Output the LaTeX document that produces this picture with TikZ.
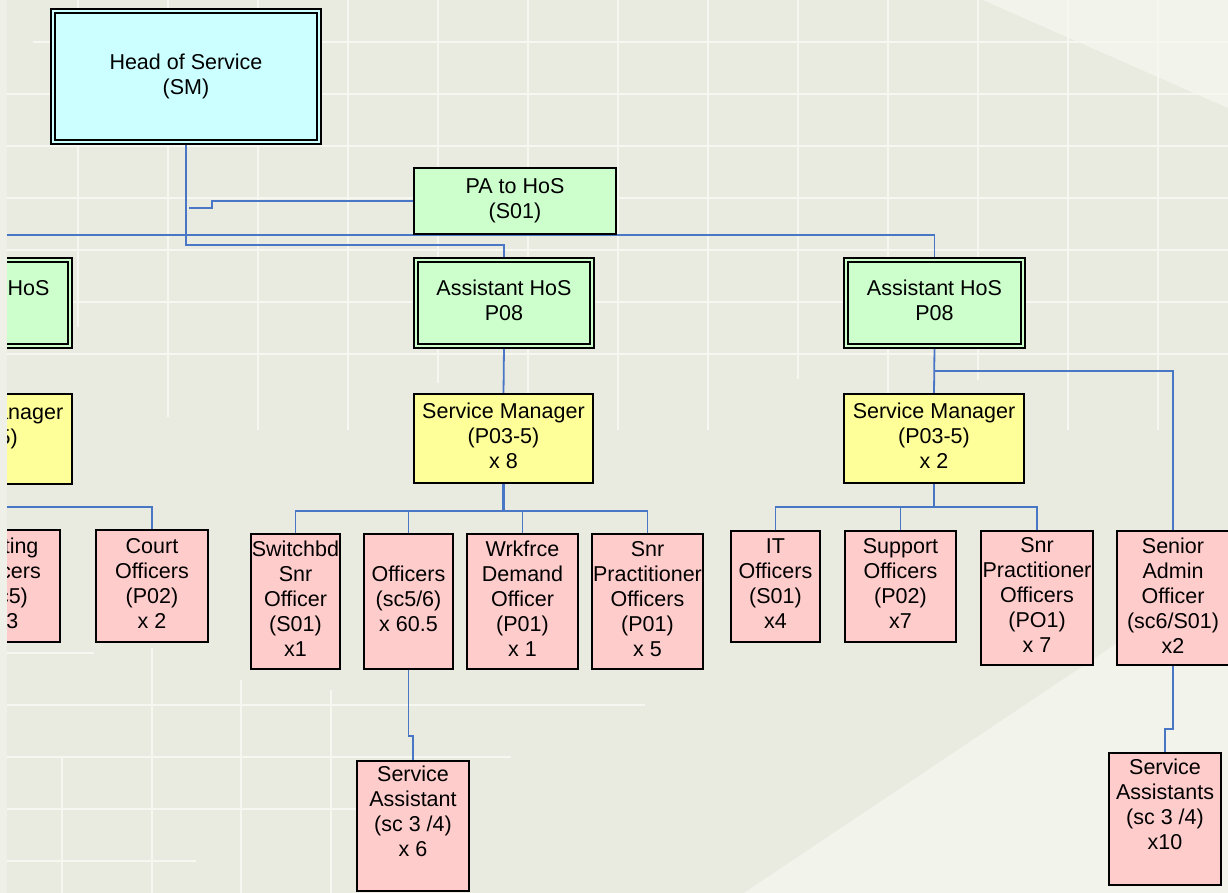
\documentclass[tikz,border=0pt]{standalone}
\usepackage{fontspec}
\setmainfont{Liberation Sans}
\pgfdeclarelayer{back}
\pgfsetlayers{back,main}
\definecolor{slidebg}{RGB}{234,235,224}
\definecolor{slidelight}{RGB}{242,243,235}
\definecolor{slideedge}{RGB}{239,241,233}
\definecolor{gridwhite}{RGB}{246,247,241}
\definecolor{linkblue}{RGB}{74,118,198}
\definecolor{hoscyan}{RGB}{204,255,255}
\definecolor{leadgreen}{RGB}{204,255,204}
\definecolor{mgryellow}{RGB}{255,255,153}
\definecolor{staffpink}{RGB}{255,204,204}
\newcommand{\orgfont}{\fontsize{21.5}{25}\selectfont}
% struts that fix the first and last line of every box
\newcommand{\headstrut}{\rule{0pt}{19.5pt}}
\newcommand{\footstrut}{\rule[-5.5pt]{0pt}{5.5pt}}

\begin{document}
\begin{tikzpicture}[x=1pt,y=-1pt,
  post/.style={draw=black, line width=1.8pt, inner sep=0pt, outer sep=0pt,
    align=center, font=\orgfont,
    execute at begin node=\headstrut, execute at end node=\footstrut},
  dpost/.style={post, fill=#1, double=#1, double distance=2.4pt, line width=1.7pt},
  sz/.style 2 args={minimum width={#1-1.8}, minimum height={#2-1.8}},
  dsz/.style 2 args={minimum width={#1-5.8}, minimum height={#2-5.8}},
  hosbox/.style={dpost=hoscyan},
  ahbox/.style={dpost=leadgreen},
  pabox/.style={post, fill=leadgreen},
  smbox/.style={post, fill=mgryellow},
  staff/.style={post, fill=staffpink},
  link/.style={draw=linkblue, line width=1.8pt},
  gridline/.style={draw=gridwhite, line width=2pt}
]
\useasboundingbox (0,0) rectangle (1228,893);

% slide background with its light bands and grid
\begin{pgfonlayer}{back}
  \fill[slidebg] (0,0) rectangle (1228,893);
  \fill[slidelight] (983,0) -- (1228,0) -- (1228,108) -- cycle;
  \fill[slidelight] (744,893) -- (1228,569) -- (1228,893) -- cycle;
  \begin{scope}[gridline]
    \foreach \x/\e in {78/327,168/417,258/430,348/430,438/383,528/430,618/430,
                       708/430,798/379,888/430,978/380,1068/430,1158/430}
      \draw (\x,0) -- (\x,\e);
    \draw (33,42) -- (1228,42);
    \foreach \y in {94,146,198,250,302,354}
      \draw (0,\y) -- (1228,\y);
    \draw (0,653) -- (94,653);
    \draw (0,705) -- (645,705);
    \draw (0,757) -- (511,757);
    \draw (0,809) -- (356,809);
    \draw (0,861) -- (196,861);
    \draw (62,757) -- (62,893);
    \draw (152,648) -- (152,893);
    \draw (241,680) -- (241,893);
    \draw (331,690) -- (331,893);
  \end{scope}
\end{pgfonlayer}

% top of the structure
\node[hosbox, dsz={272}{137}] (hos) at (186,76.5) {Head of Service\\(SM)};
\node[pabox, sz={204}{68}] (pa) at (515,201) {PA to HoS\\(S01)};

% assistant heads of service
\node[ahbox, dsz={182}{92}] (ah1) at (-18,303) {Assistant HoS\\P08};
\node[ahbox, dsz={182}{92}] (ah2) at (504,303) {Assistant HoS\\P08};
\node[ahbox, dsz={183}{92}] (ah3) at (934.5,303) {Assistant HoS\\P08};

% service managers
\node[smbox, sz={182}{92}] (sm1) at (-18,439) {Service Manager\\(P03-5)\\\phantom{x 0}};
\node[smbox, sz={181}{91}] (sm2) at (503.5,438.5) {Service Manager\\(P03-5)\\x 8};
\node[smbox, sz={182}{91}] (sm3) at (934,438.5) {Service Manager\\(P03-5)\\x 2};

% left team
\node[staff, sz={114}{114}] (v1) at (4,586) {Visiting\\Officers\\(sc5)\\x 3};
\node[staff, sz={114}{114}] (v2) at (152,586) {Court\\Officers\\(P02)\\x 2};

% middle team
\node[staff, sz={91}{137}] (c1) at (295.5,601.5) {Switchbd\\Snr\\Officer\\(S01)\\x1};
\node[staff, sz={91}{137}] (c2) at (408.5,601.5) {Officers\\(sc5/6)\\x 60.5};
\node[staff, sz={113}{137}] (c3) at (522.5,601.5) {Wrkfrce\\Demand\\Officer\\(P01)\\x 1};
\node[staff, sz={113}{137}] (c4) at (647.5,601.5) {Snr\\Practitioner\\Officers\\(P01)\\x 5};
\node[staff, sz={114}{132}] (sa1) at (413,826) {Service\\Assistant\\(sc 3 /4)\\x 6\\};

% right team
\node[staff, sz={91}{113}] (it) at (775.5,586.5) {IT\\Officers\\(S01)\\x4};
\node[staff, sz={113}{113}] (sup) at (900.5,586.5) {Support\\Officers\\(P02)\\x7};
\node[staff, sz={114}{136}] (snr) at (1037,598) {Snr\\Practitioner\\Officers\\(PO1)\\x 7};
\node[staff, sz={114}{136}] (sao) at (1173,598) {Senior\\Admin\\Officer\\(sc6/S01)\\x2};
\node[staff, sz={114}{134}] (sas) at (1165,819) {Service\\Assistants\\(sc 3 /4)\\x10\\};

% reporting lines, kept behind the boxes
\begin{pgfonlayer}{back}
  \coordinate (paj) at (189,208);
  \coordinate (topbar) at (0,235);
  \coordinate (hosbar) at (0,245);
  \coordinate (side) at (0,371);
  \coordinate (bar1) at (0,507);
  \coordinate (bar2) at (0,511);
  \coordinate (bar3) at (0,507);

  \draw[link] (paj) -- ++(23,0) |- (pa.west);
  \draw[link] (ah1.north) -- (ah1.north |- topbar) -| (ah3.north);
  \draw[link] (hos.south) -- (hos.south |- hosbar) -| (ah2.north);

  \draw[link] (ah1.south) -- (sm1.north);
  \draw[link] (ah2.south) -- (sm2.north);
  \draw[link] (ah3.south) -- (sm3.north);

  \draw[link] (sm1.south) -- (sm1.south |- bar1) -| (v2.north);
  \draw[link] (sm1.south |- bar1) -| (v1.north);

  \draw[link, line width=3pt] (sm2.south) -- (sm2.south |- bar2);
  \foreach \c in {c1,c2,c3,c4}
    \draw[link] (sm2.south |- bar2) -| (\c.north);
  \draw[link] (c2.south) -- ++(0,67) -| (sa1.north);

  \draw[link] (ah3.south |- side) -| (sao.north);
  \draw[link] (sm3.south) -- (sm3.south |- bar3);
  \foreach \c in {it,sup,snr}
    \draw[link] (sm3.south |- bar3) -| (\c.north);
  \draw[link] (sao.south) -- ++(0,64) -| (sas.north);
\end{pgfonlayer}

% pale margin strip along the left edge
\fill[slideedge] (0,0) rectangle (7,893);
\end{tikzpicture}
\end{document}
